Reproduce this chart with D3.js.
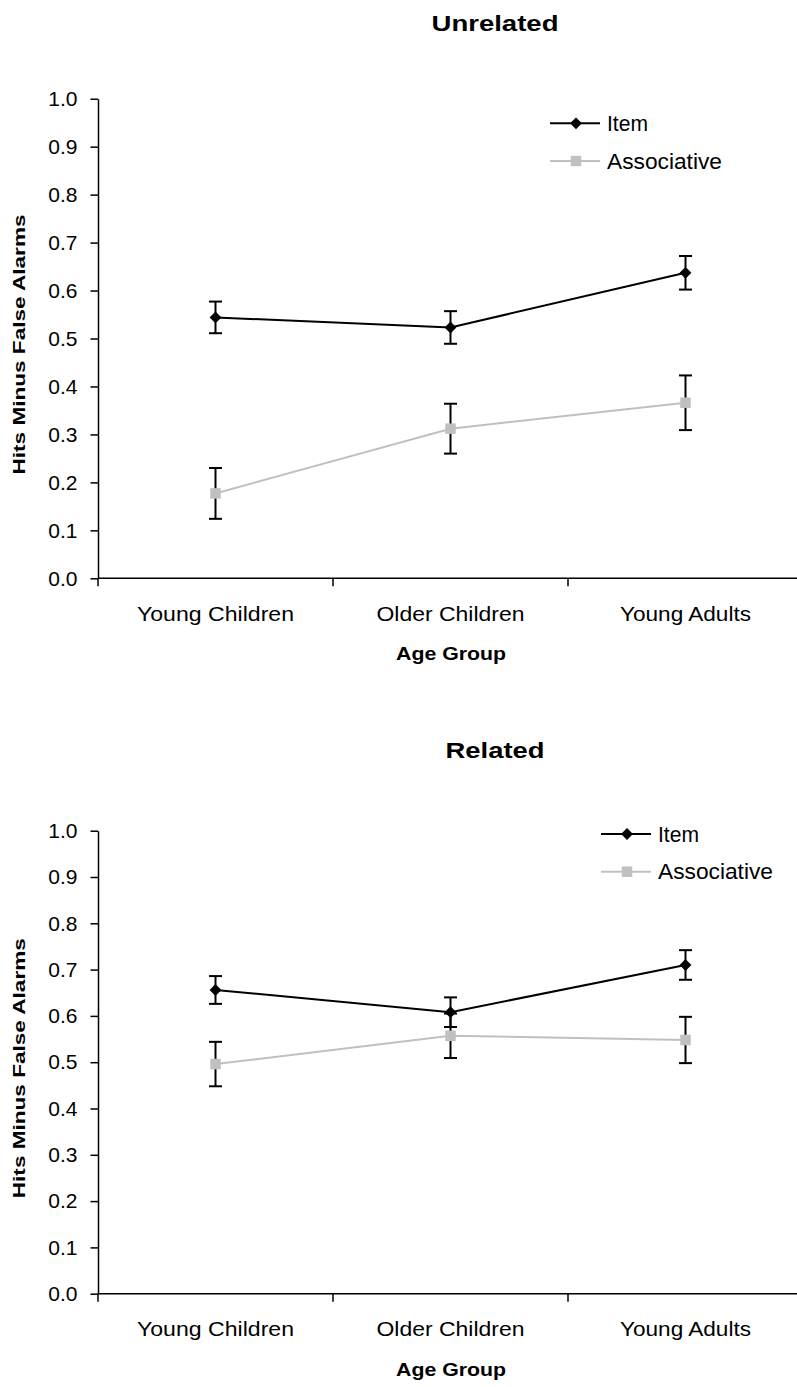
<!DOCTYPE html>
<html>
<head>
<meta charset="utf-8">
<script src="https://cdn.jsdelivr.net/npm/d3@7"></script>
<style>
  html, body { margin: 0; padding: 0; background: #fff; }
  svg { display: block; font-family: Arial, "Liberation Sans", sans-serif; }
</style>
</head>
<body>
<div id="chart"></div>
<script>
const ageGroups = ["Young Children", "Older Children", "Young Adults"];
const yTicks = [0, 0.1, 0.2, 0.3, 0.4, 0.5, 0.6, 0.7, 0.8, 0.9, 1.0];
const seriesNames = ["Item", "Associative"];

// Unrelated panel
const unrelatedItem = [0.544, 0.523, 0.637];
const unrelatedItemErr = [0.033, 0.034, 0.035];
const unrelatedAssoc = [0.177, 0.312, 0.366];
const unrelatedAssocErr = [0.053, 0.052, 0.057];

// Related panel
const relatedItem = [0.656, 0.608, 0.710];
const relatedItemErr = [0.030, 0.032, 0.032];
const relatedAssoc = [0.496, 0.557, 0.548];
const relatedAssocErr = [0.048, 0.048, 0.050];

const svg = d3.select("#chart").append("svg")
  .attr("width", 797)
  .attr("height", 1387);

const panels = [
  {
    title: "Unrelated", titleLen: 127, titleY: 23,
    top: 98.7, bottom: 578.3, legendX: 550, legendY: 123.3,
    item: unrelatedItem, itemErr: unrelatedItemErr,
    assoc: unrelatedAssoc, assocErr: unrelatedAssocErr
  },
  {
    title: "Related", titleLen: 99, titleY: 750,
    top: 830.7, bottom: 1293.7, legendX: 601, legendY: 834,
    item: relatedItem, itemErr: relatedItemErr,
    assoc: relatedAssoc, assocErr: relatedAssocErr
  }
];

const catLens = { "Young Children": 157, "Older Children": 148, "Young Adults": 131 };
const itemColor = "#000000";
const assocColor = "#c0c0c0";

const x = d3.scaleBand().domain(ageGroups).range([98, 803]);
const cx = (d) => x(d) + x.bandwidth() / 2;

panels.forEach((p) => {
  const g = svg.append("g");
  const y = d3.scaleLinear().domain([0, 1]).range([p.bottom, p.top]);

  g.append("text")
    .attr("x", 495).attr("y", p.titleY)
    .attr("text-anchor", "middle").attr("dominant-baseline", "central")
    .attr("font-size", 22).attr("font-weight", "bold")
    .attr("textLength", p.titleLen).attr("lengthAdjust", "spacingAndGlyphs")
    .text(p.title);

  // y axis
  const yAxis = g.append("g")
    .attr("transform", `translate(98,0)`)
    .call(d3.axisLeft(y).tickValues(yTicks).tickFormat(d3.format(".1f")).tickSize(7.5).tickSizeOuter(0).tickPadding(13));
  yAxis.select(".domain").attr("stroke", "#000").attr("stroke-width", 1.5);
  yAxis.selectAll(".tick line").attr("stroke", "#000").attr("stroke-width", 1.5);
  yAxis.selectAll(".tick text").attr("font-size", 21).attr("font-family", "Arial, 'Liberation Sans', sans-serif").attr("fill", "#000");

  // x axis
  g.append("line")
    .attr("x1", 98).attr("x2", 803)
    .attr("y1", y(0)).attr("y2", y(0))
    .attr("stroke", "#000").attr("stroke-width", 1.5);
  g.selectAll(".xtick").data(ageGroups).join("line")
    .attr("x1", (d) => x(d)).attr("x2", (d) => x(d))
    .attr("y1", y(0)).attr("y2", y(0) + 8)
    .attr("stroke", "#000").attr("stroke-width", 1.5);
  g.selectAll(".xlabel").data(ageGroups).join("text")
    .attr("x", cx).attr("y", y(0) + 35)
    .attr("text-anchor", "middle").attr("dominant-baseline", "central")
    .attr("font-size", 21)
    .attr("textLength", (d) => catLens[d]).attr("lengthAdjust", "spacingAndGlyphs")
    .text((d) => d);

  g.append("text")
    .attr("x", 451).attr("y", y(0) + 76)
    .attr("text-anchor", "middle").attr("dominant-baseline", "central")
    .attr("font-size", 18).attr("font-weight", "bold")
    .attr("textLength", 110).attr("lengthAdjust", "spacingAndGlyphs")
    .text("Age Group");

  g.append("text")
    .attr("transform", `translate(19,${(p.top + p.bottom) / 2 + 6}) rotate(-90)`)
    .attr("text-anchor", "middle").attr("dominant-baseline", "central")
    .attr("font-size", 17).attr("font-weight", "bold")
    .attr("textLength", 260).attr("lengthAdjust", "spacingAndGlyphs")
    .text("Hits Minus False Alarms");

  const line = d3.line().x((d) => cx(d.cat)).y((d) => y(d.v));
  const series = [
    { name: "Item", color: itemColor, vals: p.item, errs: p.itemErr, shape: d3.symbolDiamond },
    { name: "Associative", color: assocColor, vals: p.assoc, errs: p.assocErr, shape: d3.symbolSquare }
  ];

  series.forEach((s) => {
    const pts = ageGroups.map((c, i) => ({ cat: c, v: s.vals[i], e: s.errs[i] }));
    g.append("path").datum(pts)
      .attr("d", line).attr("fill", "none")
      .attr("stroke", s.color).attr("stroke-width", 2);

    const eb = g.append("g").attr("stroke", "#000").attr("stroke-width", 2).attr("fill", "none");
    eb.selectAll(".v").data(pts).join("line")
      .attr("x1", (d) => cx(d.cat)).attr("x2", (d) => cx(d.cat))
      .attr("y1", (d) => y(d.v + d.e)).attr("y2", (d) => y(d.v - d.e));
    eb.selectAll(".t").data(pts).join("line")
      .attr("x1", (d) => cx(d.cat) - 6.5).attr("x2", (d) => cx(d.cat) + 6.5)
      .attr("y1", (d) => y(d.v + d.e)).attr("y2", (d) => y(d.v + d.e));
    eb.selectAll(".b").data(pts).join("line")
      .attr("x1", (d) => cx(d.cat) - 6.5).attr("x2", (d) => cx(d.cat) + 6.5)
      .attr("y1", (d) => y(d.v - d.e)).attr("y2", (d) => y(d.v - d.e));

    g.selectAll(null).data(pts).join("path")
      .attr("transform", (d) => `translate(${cx(d.cat)},${y(d.v)})` + (s.shape === d3.symbolDiamond ? " rotate(45)" : ""))
      .attr("d", d3.symbol().type(d3.symbolSquare).size(s.shape === d3.symbolDiamond ? 70 : 110))
      .attr("fill", s.color);
  });

  // legend
  const lg = g.append("g").attr("transform", `translate(${p.legendX},${p.legendY})`);
  series.forEach((s, i) => {
    const row = lg.append("g").attr("transform", `translate(0,${i * 37.7})`);
    row.append("line").attr("x1", 0).attr("x2", 50).attr("y1", 0).attr("y2", 0)
      .attr("stroke", s.color).attr("stroke-width", 2);
    row.append("path")
      .attr("transform", `translate(26,0)` + (s.shape === d3.symbolDiamond ? " rotate(45)" : ""))
      .attr("d", d3.symbol().type(d3.symbolSquare).size(s.shape === d3.symbolDiamond ? 70 : 110))
      .attr("fill", s.color);
    row.append("text")
      .attr("x", 57).attr("y", 0)
      .attr("dominant-baseline", "central")
      .attr("font-size", 22)
      .attr("textLength", s.name === "Item" ? 41 : 115).attr("lengthAdjust", "spacingAndGlyphs")
      .text(s.name);
  });
});
</script>
</body>
</html>
